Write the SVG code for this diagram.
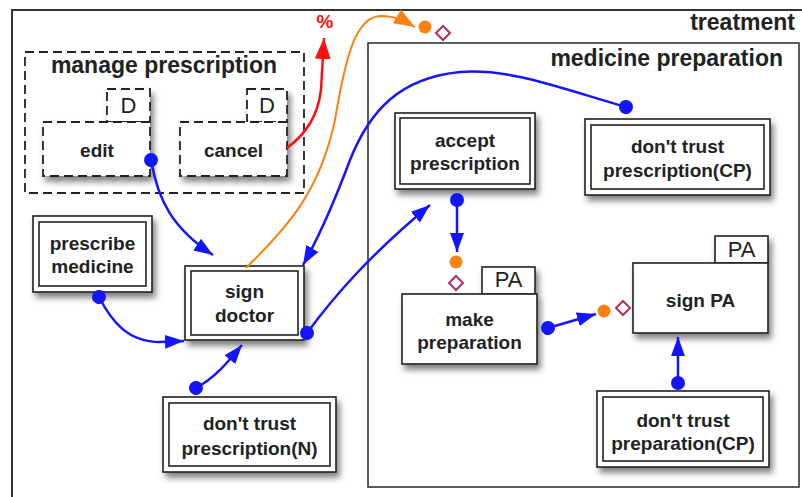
<svg xmlns="http://www.w3.org/2000/svg" width="802" height="497" viewBox="0 0 802 497">
<defs>
<style>
text{font-family:"Liberation Sans",Arial,sans-serif;fill:#222}
.t{font-size:19px;font-weight:bold;text-anchor:middle}
.title{font-size:23px;font-weight:bold}
.tag{font-size:22px;text-anchor:middle}
.box{fill:#fff;stroke:#222;stroke-width:1.6}
.inner{fill:none;stroke:#222;stroke-width:1.6}
.dash{fill:#fff;stroke:#222;stroke-width:1.8;stroke-dasharray:9 5}
.frame{fill:none;stroke:#333;stroke-width:2}
.blue{fill:none;stroke:#1414ff;stroke-width:2.5;marker-start:url(#dot);marker-end:url(#arrB)}
.red{fill:none;stroke:#ff1010;stroke-width:2.5;marker-end:url(#arrR)}
.orange{fill:none;stroke:#ff8010;stroke-width:2;marker-end:url(#arrO)}
.odot{fill:#ff8010}
.dia{fill:#fff;stroke:#a8306e;stroke-width:2}
</style>
<filter id="sh" x="-20%" y="-20%" width="150%" height="160%">
<feDropShadow dx="3" dy="5" stdDeviation="3" flood-color="#000" flood-opacity="0.5"/>
</filter>
<marker id="arrB" markerUnits="userSpaceOnUse" markerWidth="20" markerHeight="16" refX="19" refY="8" orient="auto"><path d="M0,1 L19,8 L0,15 z" fill="#1414ff"/></marker>
<marker id="arrR" markerUnits="userSpaceOnUse" markerWidth="22" markerHeight="18" refX="21" refY="9" orient="auto"><path d="M0,1 L21,9 L0,17 z" fill="#ff1010"/></marker>
<marker id="arrO" markerUnits="userSpaceOnUse" markerWidth="22" markerHeight="18" refX="21" refY="9" orient="auto"><path d="M0,1 L21,9 L0,17 z" fill="#ff8010"/></marker>
<marker id="dot" markerUnits="userSpaceOnUse" markerWidth="16" markerHeight="16" refX="8" refY="8" orient="auto"><circle cx="8" cy="8" r="7" fill="#1414ff"/></marker>
</defs>
<rect x="0" y="0" width="802" height="497" fill="#fff"/>

<g id="treatment">
<rect class="frame" x="12" y="10" width="800" height="500"/>
<text class="title" x="795" y="30" text-anchor="end">treatment</text>
</g>

<g id="medicine-preparation">
<rect class="frame" x="368" y="43" width="431" height="444" style="stroke-width:1.6"/>
<text class="title" x="783" y="66" text-anchor="end">medicine preparation</text>
</g>

<g id="manage-prescription">
<rect class="dash" x="25" y="52" width="279" height="141" style="fill:none"/>
<text class="title" x="164" y="73" text-anchor="middle">manage prescription</text>
</g>

<g id="edit">
<g filter="url(#sh)">
<rect class="dash" x="107" y="89" width="43" height="33"/>
<rect class="dash" x="43" y="122" width="107" height="54"/>
</g>
<text class="tag" x="128.5" y="113">D</text>
<text class="t" x="97" y="157">edit</text>
</g>

<g id="cancel">
<g filter="url(#sh)">
<rect class="dash" x="247" y="89" width="40" height="33"/>
<rect class="dash" x="180" y="122" width="107" height="54"/>
</g>
<text class="tag" x="267" y="113">D</text>
<text class="t" x="233.5" y="157">cancel</text>
</g>

<g id="prescribe-medicine">
<rect class="box" x="33" y="216" width="119" height="76" filter="url(#sh)"/>
<rect class="inner" x="39" y="222" width="107" height="64"/>
<text class="t" x="92.5" y="250">prescribe</text>
<text class="t" x="92.5" y="273">medicine</text>
</g>

<g id="sign-doctor">
<rect class="box" x="185" y="266" width="119" height="74" filter="url(#sh)"/>
<rect class="inner" x="191" y="271" width="107" height="64"/>
<text class="t" x="244.5" y="298">sign</text>
<text class="t" x="244.5" y="322">doctor</text>
</g>

<g id="dont-trust-prescription-n">
<rect class="box" x="163" y="397" width="173" height="75" filter="url(#sh)"/>
<rect class="inner" x="169" y="403" width="161" height="63"/>
<text class="t" x="249.5" y="430">don't trust</text>
<text class="t" x="249.5" y="455">prescription(N)</text>
</g>

<g id="accept-prescription">
<rect class="box" x="395" y="113" width="140" height="76" filter="url(#sh)"/>
<rect class="inner" x="400" y="118" width="130" height="66"/>
<text class="t" x="465" y="147">accept</text>
<text class="t" x="465" y="170">prescription</text>
</g>

<g id="dont-trust-prescription-cp">
<rect class="box" x="585" y="119" width="185" height="76" filter="url(#sh)"/>
<rect class="inner" x="591" y="125" width="173" height="64"/>
<text class="t" x="677.5" y="153">don't trust</text>
<text class="t" x="677.5" y="177">prescription(CP)</text>
</g>

<g id="make-preparation">
<g filter="url(#sh)">
<rect class="box" x="482" y="267" width="53" height="27"/>
<rect class="box" x="402" y="294" width="135" height="70"/>
</g>
<text class="tag" x="508.5" y="287">PA</text>
<text class="t" x="469.5" y="326">make</text>
<text class="t" x="469.5" y="349">preparation</text>
</g>

<g id="sign-pa">
<g filter="url(#sh)">
<rect class="box" x="715" y="236" width="53" height="27"/>
<rect class="box" x="633" y="263" width="135" height="70"/>
</g>
<text class="tag" x="741.5" y="257">PA</text>
<text class="t" x="700.5" y="307">sign PA</text>
</g>

<g id="dont-trust-preparation-cp">
<rect class="box" x="597" y="391" width="172" height="76" filter="url(#sh)"/>
<rect class="inner" x="603" y="397" width="160" height="64"/>
<text class="t" x="683" y="427">don't trust</text>
<text class="t" x="683" y="450">preparation(CP)</text>
</g>

<g id="connectors">
<path class="blue" d="M151,160 C158,200 172,228 213,255"/>
<path class="blue" d="M99,297 C112,322 128,342 160,342 L184,341"/>
<path class="blue" d="M196,388 C215,378 228,362 242,345"/>
<path class="blue" d="M307,333 C335,295 370,255 430,205"/>
<path class="blue" d="M626,107 C560,88 510,68 460,72 C400,78 370,110 350,160 C335,200 320,235 303,265"/>
<path class="blue" d="M457,200 L457,252"/>
<path class="blue" d="M548,328 L596,314"/>
<path class="blue" d="M678,383 L678,337"/>
<path class="red" d="M287,148 C305,135 318,115 321,90 L324,38"/>
<text x="325" y="28" text-anchor="middle" style="font-size:19px;font-weight:bold;fill:#ff1010">%</text>
<path class="orange" d="M246,268 C290,225 320,190 335,120 C345,60 355,17 380,16 C395,16 403,20 415,27"/>
<circle class="odot" cx="425" cy="27" r="6.5"/>
<path class="dia" d="M443,26 L450,33 L443,40 L436,33 z"/>
<circle class="odot" cx="456" cy="262" r="6.5"/>
<path class="dia" d="M456,276 L463,283 L456,290 L449,283 z"/>
<circle class="odot" cx="604" cy="311" r="6.5"/>
<path class="dia" d="M623,301 L630,308 L623,315 L616,308 z"/>
</g>
</svg>
